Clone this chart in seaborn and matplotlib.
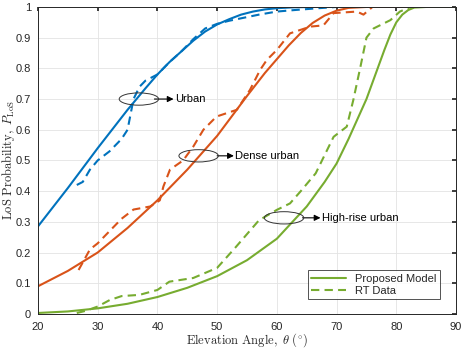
import numpy as np
import pandas as pd
import matplotlib
matplotlib.use('Agg')
import matplotlib.pyplot as plt
import seaborn as sns
from matplotlib.patches import Ellipse

# model curves (solid)
urban_theta = [20, 25, 30, 35, 38, 40, 42, 44, 46, 48, 50, 52, 54, 56, 58, 60, 63, 66, 90]
urban_model = [0.285, 0.41, 0.54, 0.665, 0.735, 0.78, 0.82, 0.855, 0.89, 0.92, 0.943, 0.96,
               0.975, 0.985, 0.992, 0.996, 0.999, 1.0, 1.0]

dense_theta = [20, 25, 30, 35, 40, 45, 50, 55, 58, 60, 62, 64, 66, 68, 70, 72, 75, 90]
dense_model = [0.09, 0.14, 0.20, 0.28, 0.37, 0.47, 0.58, 0.71, 0.785, 0.83, 0.875, 0.915,
               0.948, 0.972, 0.988, 0.997, 1.0, 1.0]

hr_theta = [20, 25, 30, 35, 40, 45, 50, 55, 60, 65, 68, 70, 72, 75, 78, 79, 80, 81, 82, 83,
            85, 90]
hr_model = [0.003, 0.008, 0.018, 0.033, 0.055, 0.085, 0.123, 0.175, 0.245, 0.35, 0.43,
            0.49, 0.57, 0.70, 0.86, 0.91, 0.95, 0.975, 0.99, 0.998, 1.0, 1.0]

# ray tracing data (dashed)
urban_rt_theta = [26.5, 27.5, 28.7, 30, 32, 34, 35, 36, 37, 38, 40, 42, 44, 46, 48, 50,
                  52, 54, 57, 60, 63, 67, 70, 90]
urban_rt = [0.42, 0.43, 0.47, 0.50, 0.53, 0.57, 0.60, 0.70, 0.74, 0.76, 0.78, 0.82, 0.855,
            0.895, 0.93, 0.945, 0.955, 0.963, 0.975, 0.985, 0.99, 0.996, 1.0, 1.0]

dense_rt_theta = [26.8, 28.7, 30, 32, 34, 36, 38.8, 40.4, 41, 42.1, 44.3, 46, 47.7, 49.9,
                  53.3, 55.5, 57.2, 58.3, 60, 62.2, 65.6, 67.8, 69.5, 73.4, 74.5, 76, 90]
dense_rt = [0.143, 0.21, 0.23, 0.27, 0.31, 0.34, 0.35, 0.37, 0.415, 0.47, 0.50, 0.545, 0.6,
            0.643, 0.665, 0.73, 0.795, 0.827, 0.86, 0.914, 0.936, 0.94, 0.98, 0.985, 0.975,
            1.0, 1.0]

hr_rt_theta = [26.5, 28, 30, 32, 34, 37, 40, 42, 46, 50, 53, 55, 57, 60, 62.2, 64, 66.5,
               69.5, 71.7, 72.8, 74, 75, 76.2, 79, 80.6, 82.4, 90]
hr_rt = [0.003, 0.01, 0.024, 0.045, 0.058, 0.062, 0.078, 0.105, 0.117, 0.15, 0.215, 0.26,
         0.305, 0.339, 0.36, 0.40, 0.458, 0.577, 0.61, 0.697, 0.806, 0.90, 0.93, 0.957,
         0.985, 1.0, 1.0]

blue = '#0072BD'
orange = '#D95319'
green = '#77AC30'


def main():
    sns.set_theme(style='whitegrid')
    plt.rcParams['font.family'] = ['Liberation Sans', 'DejaVu Sans']
    plt.rcParams['mathtext.fontset'] = 'cm'

    fig = plt.figure(figsize=(4.63, 3.48), dpi=100)
    ax = fig.add_axes([0.082, 0.098, 0.903, 0.882])

    lw = 1.5
    dash = (0, (4, 2.5))
    sns.lineplot(x=urban_theta, y=urban_model, color=blue, lw=lw, ax=ax)
    sns.lineplot(x=urban_rt_theta, y=urban_rt, color=blue, lw=lw, ls=dash, ax=ax)
    sns.lineplot(x=dense_theta, y=dense_model, color=orange, lw=lw, ax=ax)
    sns.lineplot(x=dense_rt_theta, y=dense_rt, color=orange, lw=lw, ls=dash, ax=ax)
    sns.lineplot(x=hr_theta, y=hr_model, color=green, lw=lw, ax=ax, label='Proposed Model')
    sns.lineplot(x=hr_rt_theta, y=hr_rt, color=green, lw=lw, ls=dash, ax=ax,
                 label='RT Data')

    ax.set_xlim(20, 90)
    ax.set_ylim(0, 1)
    ax.set_xticks(range(20, 91, 10))
    ax.set_yticks(np.arange(0, 1.01, 0.1))
    ax.set_yticklabels(['0'] + ['%.1f' % v for v in np.arange(0.1, 0.95, 0.1)] + ['1'])
    ax.tick_params(direction='in', length=3, labelsize=8, colors='#262626',
                   top=True, right=True)
    ax.tick_params(axis='x', pad=6)
    ax.tick_params(axis='y', pad=5)
    ax.grid(color='#e3e3e3', lw=0.6)
    for s in ax.spines.values():
        s.set_color('#262626')
        s.set_linewidth(0.7)

    ax.set_xlabel(r'$\mathrm{Elevation\ Angle,}\ \theta\ (^{\circ})$', fontsize=9)
    ax.set_ylabel(r'$\mathrm{LoS\ Probability,}\ P_{\mathrm{LoS}}$', fontsize=9)
    ax.xaxis.set_label_coords(0.5, -0.058)
    ax.yaxis.set_label_coords(-0.05, 0.5)

    # annotations: ellipse + arrow + text
    notes = [(36.9, 0.70, 'Urban', 39.5, 42.7),
             (46.9, 0.515, 'Dense urban', 50.0, 52.8),
             (61.2, 0.313, 'High-rise urban', 64.3, 67.3)]
    for cx, cy, txt, x0, x1 in notes:
        ax.add_patch(Ellipse((cx, cy), 6.6, 0.04, fill=False, ec='#333333', lw=0.7, zorder=5))
        ax.annotate('', xy=(x1, cy), xytext=(x0, cy),
                    arrowprops=dict(arrowstyle='-|>', color='black', lw=0.8,
                                    mutation_scale=9, shrinkA=0, shrinkB=0))
        ax.text(x1 + 0.2, cy, txt, fontsize=8, va='center', ha='left', color='black')

    leg = ax.legend(loc='lower right', fontsize=8, frameon=True, fancybox=False,
                    borderpad=0.3, handlelength=3.2, labelspacing=0.2,
                    bbox_to_anchor=(0.975, 0.03))
    leg.get_frame().set_edgecolor('#262626')
    leg.get_frame().set_linewidth(0.7)

    fig.savefig('out.png', dpi=100)


if __name__ == "__main__":
    main()
